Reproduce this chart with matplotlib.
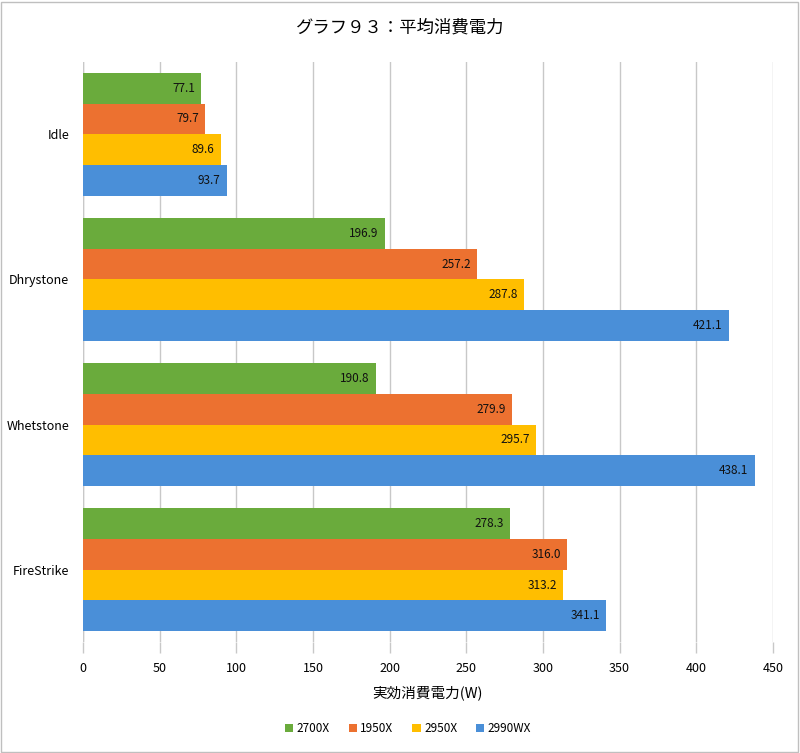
import numpy as np
import matplotlib
matplotlib.use("Agg")
import matplotlib.pyplot as plt
from matplotlib.patches import Rectangle

plt.rcParams["font.family"] = ["Noto Sans CJK JP", "DejaVu Sans"]

# data
categories = ["Idle", "Dhrystone", "Whetstone", "FireStrike"]
series_names = ["2700X", "1950X", "2950X", "2990WX"]
values = {
    "2700X": [77.1, 196.9, 190.8, 278.3],
    "1950X": [79.7, 257.2, 279.9, 316.0],
    "2950X": [89.6, 287.8, 295.7, 313.2],
    "2990WX": [93.7, 421.1, 438.1, 341.1],
}
colors = ["#6AAB3C", "#EC7130", "#FFBE00", "#4A8FD8"]
x_ticks = [0, 50, 100, 150, 200, 250, 300, 350, 400, 450]

fig = plt.figure(figsize=(8, 7.53), dpi=100)
ax = fig.add_axes([0.104, 0.147, 0.862, 0.771])

n = len(series_names)
bar_h = 1.0 / (n + 0.72)
y_base = np.arange(len(categories))

for i, name in enumerate(series_names):
    offs = (i - (n - 1) / 2) * bar_h
    ys = y_base + offs
    ax.barh(ys, values[name], height=bar_h, color=colors[i], label=name, zorder=3)
    for y, v in zip(ys, values[name]):
        ax.text(v - 4, y, f"{v:.1f}", ha="right", va="center",
                fontsize=8.5, color="#111111", zorder=4)

ax.set_ylim(len(categories) - 0.5, -0.5)
ax.set_yticks(y_base)
ax.set_yticklabels(categories, fontsize=9)
ax.set_xlim(0, 450)
ax.set_xticks(x_ticks)
ax.set_xticklabels([str(t) for t in x_ticks], fontsize=9)
ax.tick_params(axis="y", length=0, pad=10)
ax.tick_params(axis="x", length=8, color="#c8c8c8", width=1, pad=6)
ax.grid(axis="x", color="#c8c8c8", lw=1, zorder=0)
for s in ax.spines.values():
    s.set_visible(False)
ax.axvline(0, color="#c8c8c8", lw=1, zorder=1)

ax.set_xlabel("実効消費電力(W)", fontsize=10.5, labelpad=8)
fig.suptitle("グラフ９３：平均消費電力", fontsize=12.5, y=0.975)

fig.legend(loc="center", bbox_to_anchor=(0.51, 0.032), ncol=4, frameon=False,
           fontsize=8.5, handlelength=0.7, handleheight=0.7, handletextpad=0.3,
           columnspacing=1.6)

fig.patches.append(Rectangle((0.001, 0.001), 0.997, 0.997, transform=fig.transFigure,
                             fill=False, edgecolor="#bfbfbf", lw=1))

fig.savefig("out.png", dpi=100, facecolor="white")
